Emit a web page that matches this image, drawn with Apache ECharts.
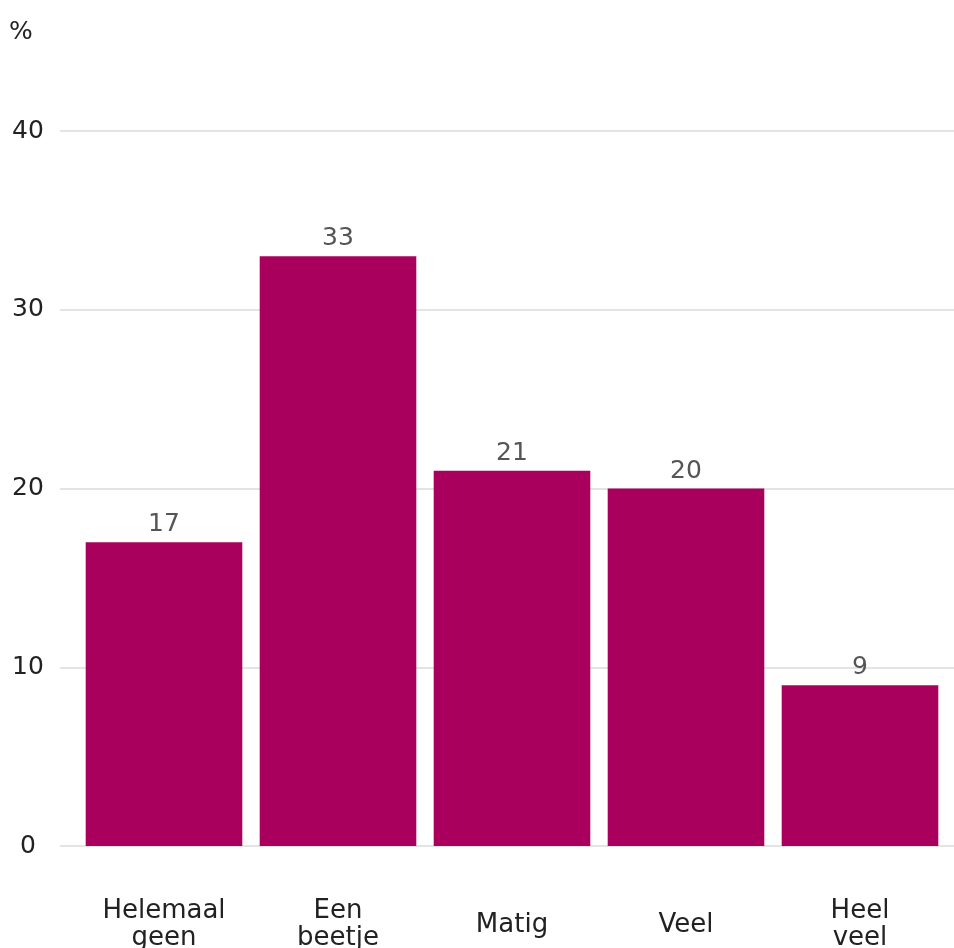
<!DOCTYPE html>
<html>
<head>
<meta charset="utf-8">
<script src="https://cdn.jsdelivr.net/npm/echarts@6/dist/echarts.min.js"></script>
<style>
  html, body { margin: 0; padding: 0; background: #fff; }
  #chart { width: 954px; height: 948px; }
</style>
</head>
<body>
<div id="chart"></div>
<script>
// Answer categories and percentages
const categories = ['Helemaal\ngeen', 'Een\nbeetje', 'Matig', 'Veel', 'Heel\nveel'];
const percentages = [17, 33, 21, 20, 9];
const yTicks = [0, 10, 20, 30, 40];

const font = 'DejaVu Sans';
const chart = echarts.init(document.getElementById('chart'), null, { renderer: 'canvas' });

const yMin = yTicks[0];
const yMax = yTicks[yTicks.length - 1];
const yStep = yTicks[1] - yTicks[0];

chart.setOption({
  backgroundColor: '#ffffff',
  animation: false,
  graphic: [{
    type: 'text',
    left: 9,
    top: 20,
    style: { text: '%', font: '25px "DejaVu Sans"', fill: '#222' }
  }],
  grid: [
    // full-width grid carrying the horizontal gridlines and tick labels
    { left: 60, right: 0, top: 131, bottom: 102, outerBoundsMode: 'none' },
    // inset grid for the bars
    { left: 77, right: 7, top: 131, bottom: 102, outerBoundsMode: 'none' }
  ],
  xAxis: [
    { gridIndex: 0, type: 'category', data: categories, show: false },
    {
      gridIndex: 1,
      type: 'category',
      data: categories,
      axisLine: { show: false },
      axisTick: { show: false },
      axisLabel: {
        margin: 79,
        verticalAlign: 'middle',
        fontFamily: font,
        fontSize: 26,
        lineHeight: 27,
        color: '#222'
      }
    }
  ],
  yAxis: [
    {
      gridIndex: 0,
      type: 'value',
      min: yMin,
      max: yMax,
      interval: yStep,
      axisLine: { show: false },
      axisTick: { show: false },
      axisLabel: { margin: 32, align: 'center', fontFamily: font, fontSize: 25, color: '#222' },
      splitLine: { lineStyle: { color: '#e4e4e4', width: 2 } }
    },
    {
      gridIndex: 1,
      type: 'value',
      min: yMin,
      max: yMax,
      interval: yStep,
      show: false,
      splitLine: { show: false }
    }
  ],
  series: [{
    type: 'bar',
    xAxisIndex: 1,
    yAxisIndex: 1,
    data: percentages,
    barCategoryGap: '10%',
    itemStyle: { color: '#a8005c' },
    label: {
      show: true,
      position: 'top',
      distance: 5,
      fontFamily: font,
      fontSize: 25,
      color: '#555'
    }
  }]
});
</script>
</body>
</html>
